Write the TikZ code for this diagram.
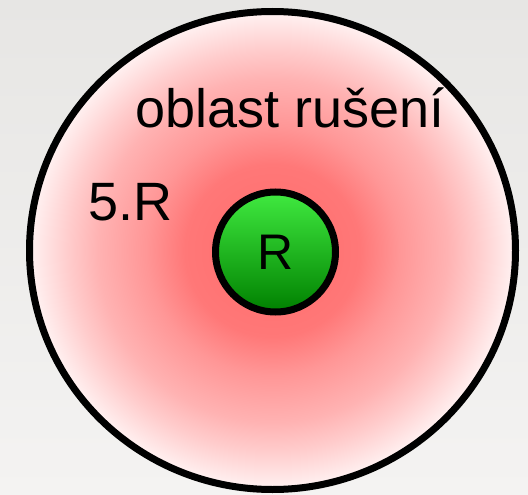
\documentclass[tikz,border=0pt]{standalone}
\usepackage{fontspec}
\setmainfont{Liberation Sans}
\usetikzlibrary{shapes.geometric}
\definecolor{bgtop}{RGB}{231,230,228}
\definecolor{bgbottom}{RGB}{244,243,242}
\definecolor{greentop}{RGB}{64,234,64}
\definecolor{greenbottom}{RGB}{0,128,0}
% red zone, strong in the middle, pale at the rim
\pgfdeclareradialshading{zoneshade}{\pgfpoint{0bp}{0bp}}{rgb(0bp)=(1,0.42,0.42); rgb(9bp)=(1,0.47,0.47); rgb(13bp)=(1,0.59,0.59); rgb(18bp)=(1,0.70,0.70); rgb(21bp)=(1,0.80,0.80); rgb(25bp)=(1,0.95,0.95); rgb(50bp)=(1,0.95,0.95)}
\begin{document}
\begin{tikzpicture}[x=1pt,y=-1pt,
  bigtext/.style={font=\fontsize{50}{60}\selectfont, inner sep=0pt},
  lbl/.style={bigtext, font=\fontsize{54}{64}\selectfont, anchor=base west}]
\fill[top color=bgtop, bottom color=bgbottom] (0,0) rectangle (528,495);
\node[ellipse, draw, line width=7pt, shade, shading=zoneshade, minimum width=486pt, minimum height=478pt, inner sep=0pt] (zone) at (272.5,250.5) {};
\node[circle, draw, line width=7pt, top color=greentop, bottom color=greenbottom, minimum size=120pt, inner sep=0pt, bigtext] (rx) at (275.5,252) {R};
\node[lbl] (zonelabel) at (135,128) {oblast rušení};
\node[lbl] (radius) at (88,220) {5.R};
\end{tikzpicture}
\end{document}
